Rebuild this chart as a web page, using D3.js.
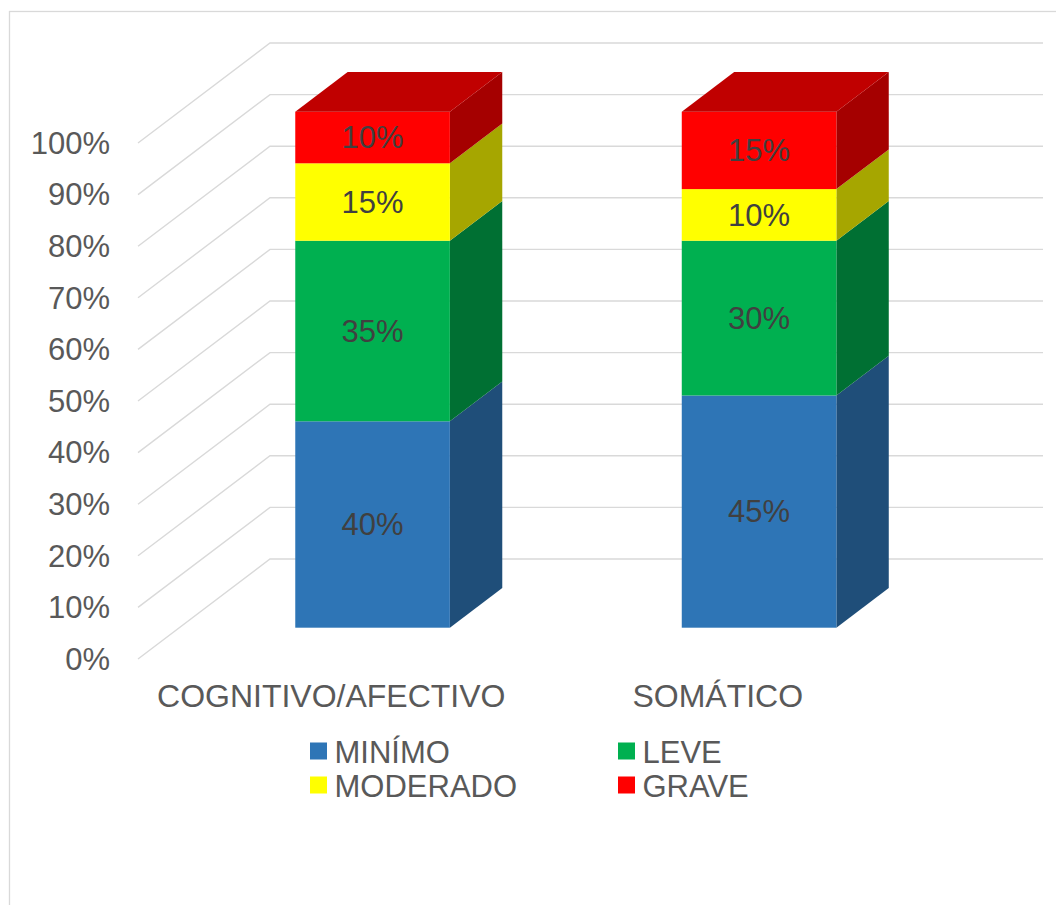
<!DOCTYPE html>
<html>
<head>
<meta charset="utf-8">
<script src="https://cdn.jsdelivr.net/npm/d3@7"></script>
<style>
  html, body { margin: 0; padding: 0; background: #ffffff; }
  svg { display: block; }
  text { font-family: "Liberation Sans", Arial, sans-serif; }
</style>
</head>
<body>
<svg id="chart" width="1056" height="905"></svg>
<script>
// ---- data ----
const categories = ["COGNITIVO/AFECTIVO", "SOMÁTICO"];
const seriesNames = ["MINÍMO", "LEVE", "MODERADO", "GRAVE"];
const minimo   = [40, 45];
const leve     = [35, 30];
const moderado = [15, 10];
const grave    = [10, 15];
const tickValues = [0, 10, 20, 30, 40, 50, 60, 70, 80, 90, 100];
const tickLabels = ["0%", "10%", "20%", "30%", "40%", "50%", "60%", "70%", "80%", "90%", "100%"];

const seriesValues = [minimo, leve, moderado, grave];
const frontColors = ["#2E75B6", "#00B050", "#FFFF00", "#FF0000"];
const sideColors  = ["#1F4E79", "#007033", "#A6A600", "#A50000"];
const topColors   = ["#1F5A8E", "#008A3D", "#C8C800", "#C00000"];

const table = categories.map((c, i) => {
  const row = { category: c };
  seriesNames.forEach((s, j) => row[s] = seriesValues[j][i]);
  return row;
});
const stacked = d3.stack().keys(seriesNames)(table);

// ---- layout ----
const svg = d3.select("#chart");
const frontLeft = 138, frontRight = 911;
const y = d3.scaleLinear().domain([0, 100]).range([659, 143]);
const x = d3.scaleBand().domain(categories).range([frontLeft, frontRight]).padding(0);
// depth projection (oblique): full depth offset
const DX = 132, DY = -100;
const zFront = 0.313, zBack = 0.71;
const barFrac = 0.4;

// border
svg.append("rect").attr("x", 9.5).attr("y", 11.5).attr("width", 1200).attr("height", 1200)
  .attr("fill", "none").attr("stroke", "#d9d9d9").attr("stroke-width", 1.3);

// gridlines: side wall diagonal + back wall horizontal
const grid = svg.append("g").attr("stroke", "#d9d9d9").attr("stroke-width", 1.4).attr("fill", "none");
tickValues.forEach(v => {
  const y0 = y(v);
  grid.append("path").attr("d",
    `M${frontLeft},${y0} L${frontLeft + DX},${y0 + DY} L${frontRight + DX},${y0 + DY}`);
});

// axis labels
svg.append("g").selectAll("text").data(tickValues).join("text")
  .attr("x", 110).attr("y", d => y(d)).attr("dy", "0.35em")
  .attr("text-anchor", "end").attr("font-size", 31).attr("fill", "#595959")
  .text((d, i) => tickLabels[i]);

// bars
const bars = svg.append("g");
const fx = DX * zFront, fy = DY * zFront;
const bx = DX * (zBack - zFront), by = DY * (zBack - zFront);
stacked.forEach((layer, j) => {
  layer.forEach((seg, i) => {
    const cat = categories[i];
    const cx = x(cat) + x.bandwidth() / 2;
    const w = x.bandwidth() * barFrac;
    const x0 = cx - w / 2 + fx, x1 = cx + w / 2 + fx;
    const yb = y(seg[0]) + fy, yt = y(seg[1]) + fy;
    // side face
    bars.append("path")
      .attr("d", `M${x1},${yb} L${x1 + bx},${yb + by} L${x1 + bx},${yt + by} L${x1},${yt} Z`)
      .attr("fill", sideColors[j]);
    // front face
    bars.append("rect").attr("x", x0).attr("y", yt).attr("width", x1 - x0).attr("height", yb - yt)
      .attr("fill", frontColors[j]);
    // top face on topmost segment
    if (j === stacked.length - 1) {
      bars.append("path")
        .attr("d", `M${x0},${yt} L${x0 + bx},${yt + by} L${x1 + bx},${yt + by} L${x1},${yt} Z`)
        .attr("fill", topColors[j]);
    }
    // data label
    bars.append("text")
      .attr("x", (x0 + x1) / 2).attr("y", (yt + yb) / 2).attr("dy", "0.35em")
      .attr("text-anchor", "middle").attr("font-size", 31).attr("fill", "#404040")
      .text(seg.data[seriesNames[j]] + "%");
  });
});

// category labels
svg.append("g").selectAll("text").data(categories).join("text")
  .attr("x", d => x(d) + x.bandwidth() / 2).attr("y", 707)
  .attr("text-anchor", "middle").attr("font-size", 32).attr("fill", "#595959")
  .text(d => d);

// legend
const legendPos = [
  { sx: 310, ty: 763 }, { sx: 618, ty: 763 },
  { sx: 310, ty: 797 }, { sx: 618, ty: 797 }
];
const legend = svg.append("g");
seriesNames.forEach((s, j) => {
  const p = legendPos[j];
  legend.append("rect").attr("x", p.sx).attr("y", p.ty - 20.5).attr("width", 17).attr("height", 17)
    .attr("fill", frontColors[j]);
  legend.append("text").attr("x", p.sx + 24.5).attr("y", p.ty)
    .attr("font-size", 31).attr("fill", "#595959").text(s);
});
</script>
</body>
</html>
